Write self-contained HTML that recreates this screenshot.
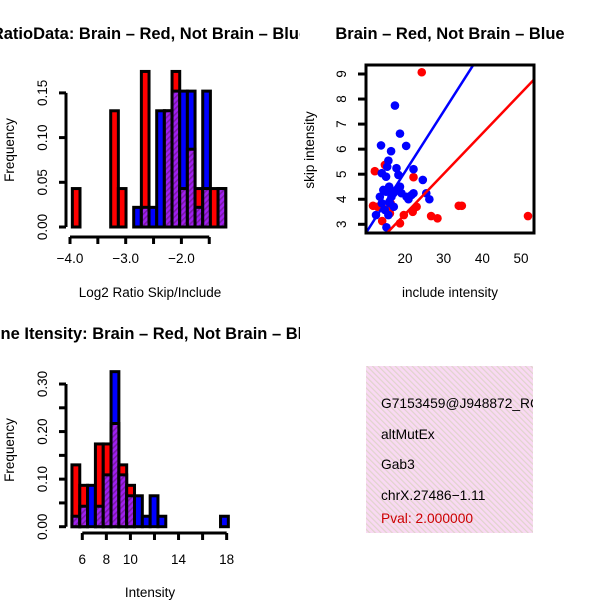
<!DOCTYPE html>
<html><head><meta charset="utf-8"><style>
html,body{margin:0;padding:0;background:#fff}
svg{display:block;font-family:"Liberation Sans",Arial,sans-serif}
</style></head><body>
<svg id="c" width="600" height="600" viewBox="0 0 600 600">
<defs>
<pattern id="hatch" width="4" height="4" patternUnits="userSpaceOnUse" patternTransform="rotate(45)"><rect width="4" height="4" fill="#a020f0"/><rect width="1.6" height="4" fill="#7a1aa8"/></pattern>
<pattern id="pinkhatch" width="4" height="4" patternUnits="userSpaceOnUse" patternTransform="rotate(-45)"><rect width="4" height="4" fill="#f9d9f3"/><rect width="1.2" height="4" fill="#e0d4cc"/></pattern>
<clipPath id="q1"><rect x="0" y="0" width="300" height="300"/></clipPath>
<clipPath id="q2"><rect x="300" y="0" width="300" height="300"/></clipPath>
<clipPath id="q3"><rect x="0" y="300" width="300" height="300"/></clipPath>
<clipPath id="q4"><rect x="366" y="366" width="167" height="167"/></clipPath>
</defs>
</svg>
<script>
// ---- Panel 1 data: ratio histogram ----
const ratioBins = [0,5,6,8,9,10,11,12,13,14,15,16,17,18,19];
const ratioRed  = [0.043,0.13,0.043,0,0.174,0,0,0.13,0.174,0.043,0.087,0.043,0.043,0.043,0.043];
const ratioBlue = [0,0,0,0.022,0.022,0.022,0.13,0.13,0.152,0.152,0.152,0.022,0.152,0,0.043];
const ratioXTicks = [-4.0,-3.5,-3.0,-2.5,-2.0,-1.5];
const ratioXLabels = ["\u22124.0","","\u22123.0","","\u22122.0",""];
const ratioYTicks = [0,0.05,0.10,0.15];
// ---- Panel 2 data: scatter ----
const redX = [24.33,11.73,12.2,14.8,14.1,16.3,16.1,18.7,19.7,22,23,22.2,26.75,28.4,33.9,34.7,51.8,12.9,15.4];
const redY = [9.07,3.74,5.12,5.37,3.13,3.84,3.44,3.04,3.37,3.5,3.7,4.88,3.33,3.24,3.74,3.74,3.33,3.7,3.6];
const blueX = [17.4,18.7,13.8,20.3,16.4,15.7,14,15.1,15.4,17.8,18.3,22.2,24.6,25.5,26.3,15.9,14.4,13.5,14,12.5,14.8,15.7,17.1,15.2,17.8,19.1,20.4,21.7,22.2,20.9,16.5,15.1,18.7,16.1,17];
const blueY = [7.74,6.62,6.15,6.13,5.92,5.54,5.04,4.9,5.3,5.24,4.97,5.2,4.77,4.24,4.0,4.5,4.37,4.1,3.84,3.37,3.57,3.37,3.7,2.88,4.37,4.24,4.1,4.17,4.24,4.0,4.1,4.3,4.5,3.84,4.24];
const blueFit = [0.262,0.2416];
const redFit = [0.18,0.1611];
const scXTicks = [20,30,40,50];
const scYTicks = [3,4,5,6,7,8,9];
// ---- Panel 3 data: intensity histogram ----
const intBins = [0,1,2,3,4,5,6,7,8,9,10,11,19];
const intRed  = [0.13,0.087,0,0.174,0.174,0.217,0.13,0.087,0,0,0,0,0];
const intBlue = [0.022,0.043,0.087,0.043,0.109,0.326,0.109,0.065,0.065,0.022,0.065,0.022,0.022];
const intXTicks = [6,8,10,12,14,16,18];
const intXLabels = ["6","8","10","","14","","18"];
const intYTicks = [0,0.05,0.10,0.15,0.20,0.25,0.30];
const intYLabels = ["0.00","","0.10","","0.20","","0.30"];

const FS = 13.5, TFS = 16.5, LW = 3;
const svg = document.getElementById('c');
const NS = 'http://www.w3.org/2000/svg';
function mk(tag, attrs, parent){const e=document.createElementNS(NS,tag);for(const k in attrs)e.setAttribute(k,attrs[k]);(parent||svg).appendChild(e);return e;}

function histogram(g, bins, red, blue, bx, bw, sx, sy, nm){
  bins.forEach((b,i)=>{
    const x0=sx(bx+b*bw), x1=sx(bx+(b+1)*bw);
    const r=red[i], bl=blue[i], mx=Math.max(r,bl), mn=Math.min(r,bl);
    if(mx<=0) return;
    const top=mk('rect',{x:x0,y:sy(mx),width:x1-x0,height:sy(0)-sy(mx),fill:r>=bl?'#ff0000':'#0000ff',stroke:'#000','stroke-width':LW},g);
    
    
    if(mn>0){
      const p=mk('rect',{x:x0,y:sy(mn),width:x1-x0,height:sy(0)-sy(mn),fill:'url(#hatch)',stroke:'#000','stroke-width':LW},g);
      
      
    }
  });
}
function txt(g,x,y,s,attrs){const t=mk('text',Object.assign({x:x,y:y,'font-size':FS,fill:'#000'},attrs||{}),g);t.textContent=s;return t;}

// ===== Panel 1 =====
(function(){
  const g=mk('g',{'clip-path':'url(#q1)'});
  
  
  const sx=v=>70+(v+4)*55.7, sy=v=>227-v*894;
  histogram(g,ratioBins,ratioRed,ratioBlue,-3.958,0.1377,sx,sy,'ratio');
  mk('line',{x1:sx(-4),x2:sx(-1.5),y1:237,y2:237,stroke:'#000','stroke-width':LW},g);
  ratioXTicks.forEach((v,i)=>{mk('line',{x1:sx(v),x2:sx(v),y1:237,y2:244,stroke:'#000','stroke-width':LW},g);
    if(ratioXLabels[i]){const t=txt(g,sx(v),263,ratioXLabels[i],{'text-anchor':'middle'});}});
  mk('line',{x1:66,x2:66,y1:sy(0),y2:sy(0.15),stroke:'#000','stroke-width':LW},g);
  ratioYTicks.forEach(v=>{mk('line',{x1:59,x2:66,y1:sy(v),y2:sy(v),stroke:'#000','stroke-width':LW},g);
    const t=txt(g,0,0,v.toFixed(2),{'text-anchor':'middle',transform:`translate(47,${sy(v)}) rotate(-90)`});});
  const yt=txt(g,0,0,'Frequency',{'text-anchor':'middle',transform:'translate(14,150) rotate(-90)'});
  const xt=txt(g,150,297,'Log2 Ratio Skip/Include',{'text-anchor':'middle'});
  const tt=txt(g,150,39,'RatioData: Brain \u2013 Red, Not Brain \u2013 Blue',{'text-anchor':'middle','font-size':TFS,'font-weight':'bold'});
})();

// ===== Panel 2 =====
(function(){
  const g=mk('g',{'clip-path':'url(#q2)'});
  
  
  const sx=v=>405+(v-20)*3.867, sy=v=>224.3-(v-3)*25.05;
  const cp=mk('clipPath',{id:'plotclip'},g);mk('rect',{x:366,y:65,width:168,height:168},cp);
  const pg=mk('g',{'clip-path':'url(#plotclip)'},g);
  redX.forEach((x,i)=>{const c=mk('circle',{cx:sx(x),cy:sy(redY[i]),r:4.3,fill:'#ff0000'},pg);});
  blueX.forEach((x,i)=>{const c=mk('circle',{cx:sx(x),cy:sy(blueY[i]),r:4.3,fill:'#0000ff'},pg);});
  const bl=mk('line',{x1:sx(0),y1:sy(blueFit[0]),x2:sx(60),y2:sy(blueFit[0]+blueFit[1]*60),stroke:'#0000ff','stroke-width':2.5},pg);
  
  const rl=mk('line',{x1:sx(0),y1:sy(redFit[0]),x2:sx(60),y2:sy(redFit[0]+redFit[1]*60),stroke:'#ff0000','stroke-width':2.5},pg);
  
  const box=mk('rect',{x:366,y:65,width:168,height:168,fill:'none',stroke:'#000','stroke-width':LW},g);
  
  scXTicks.forEach(v=>{
    const t=txt(g,sx(v),263,String(v),{'text-anchor':'middle'});});
  scYTicks.forEach(v=>{mk('line',{x1:358,x2:366,y1:sy(v),y2:sy(v),stroke:'#000','stroke-width':LW},g);
    const t=txt(g,0,0,String(v),{'text-anchor':'middle',transform:`translate(346,${sy(v)}) rotate(-90)`});});
  const yt=txt(g,0,0,'skip intensity',{'text-anchor':'middle',transform:'translate(314,150) rotate(-90)'});
  const xt=txt(g,450,297,'include intensity',{'text-anchor':'middle'});
  const tt=txt(g,450,39,'Brain \u2013 Red, Not Brain \u2013 Blue',{'text-anchor':'middle','font-size':TFS,'font-weight':'bold'});
})();

// ===== Panel 3 =====
(function(){
  const g=mk('g',{'clip-path':'url(#q3)'});
  
  
  const sx=v=>82.3+(v-6)*12.03, sy=v=>526.7-v*475.6;
  histogram(g,intBins,intRed,intBlue,5.14,0.65,sx,sy,'intensity');
  mk('line',{x1:sx(6),x2:sx(18),y1:533,y2:533,stroke:'#000','stroke-width':LW},g);
  intXTicks.forEach((v,i)=>{mk('line',{x1:sx(v),x2:sx(v),y1:533,y2:540,stroke:'#000','stroke-width':LW},g);
    if(intXLabels[i]){const t=txt(g,sx(v),564,intXLabels[i],{'text-anchor':'middle'});}});
  mk('line',{x1:66,x2:66,y1:sy(0),y2:sy(0.30),stroke:'#000','stroke-width':LW},g);
  intYTicks.forEach((v,i)=>{mk('line',{x1:59,x2:66,y1:sy(v),y2:sy(v),stroke:'#000','stroke-width':LW},g);
    if(intYLabels[i]){const t=txt(g,0,0,intYLabels[i],{'text-anchor':'middle',transform:`translate(47,${sy(v)}) rotate(-90)`});}});
  const yt=txt(g,0,0,'Frequency',{'text-anchor':'middle',transform:'translate(14,450) rotate(-90)'});
  const xt=txt(g,150,597,'Intensity',{'text-anchor':'middle'});
  const tt=txt(g,150,339,'Gene Itensity: Brain \u2013 Red, Not Brain \u2013 Blue',{'text-anchor':'middle','font-size':TFS,'font-weight':'bold'});
})();

// ===== Panel 4 =====
(function(){
  const g=mk('g',{'clip-path':'url(#q4)'});
  
  
  mk('rect',{x:366,y:366,width:167,height:167,fill:'url(#pinkhatch)'},g);
  const lines=[['G7153459@J948872_RC',408,'#000','probe-id'],['altMutEx',439,'#000','event-type'],['Gab3',469,'#000','gene-name'],['chrX.27486\u22121.11',500,'#000','location'],['Pval: 2.000000',523,'#cc0000','p-value']];
  lines.forEach(l=>{const t=txt(g,381,l[1],l[0],{fill:l[2],'font-size':13.8});});
})();
</script>
</body></html>
